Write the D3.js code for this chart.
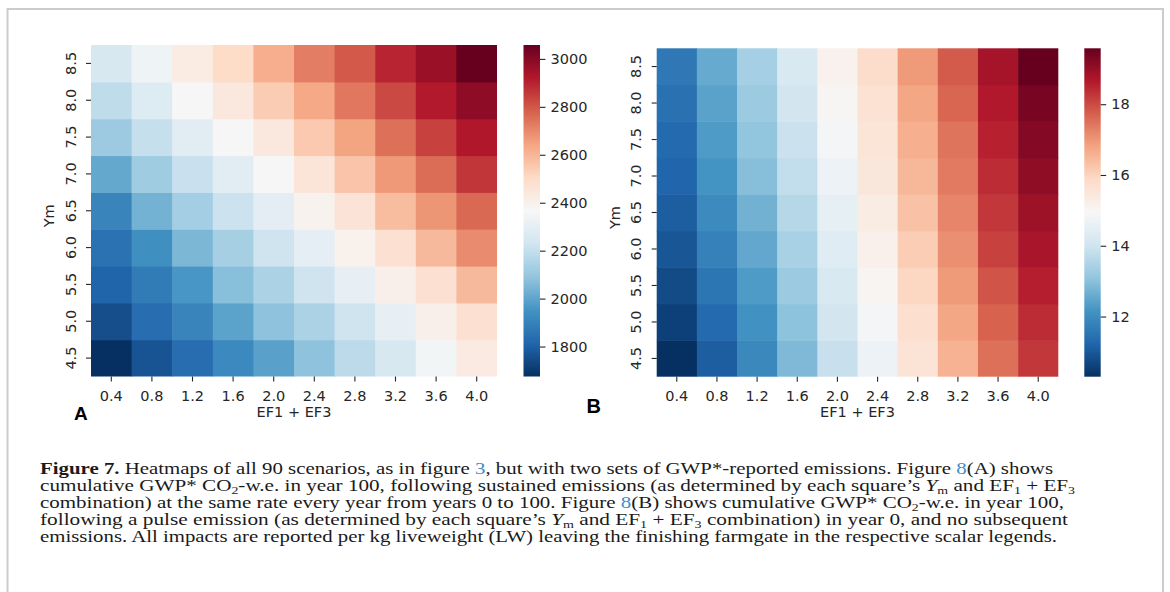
<!DOCTYPE html>
<html>
<head>
<meta charset="utf-8">
<script src="https://cdn.jsdelivr.net/npm/d3@7"></script>
<style>
  html, body { margin: 0; padding: 0; background: #fff; }
  svg { display: block; }
</style>
</head>
<body>
<svg id="fig" width="1170" height="592"></svg>
<script>
// ---------------- data ----------------
const efLabels = ["0.4", "0.8", "1.2", "1.6", "2.0", "2.4", "2.8", "3.2", "3.6", "4.0"];
const ymLabels = ["4.5", "5.0", "5.5", "6.0", "6.5", "7.0", "7.5", "8.0", "8.5"];

// Panel A: cumulative GWP* CO2-w.e. (sustained), rows = Ym 4.5 .. 8.5, cols = EF1+EF3
const valuesA = [
  [1675, 1767, 1836, 1920, 1990, 2085, 2182, 2252, 2350, 2430],
  [1753, 1836, 1905, 1995, 2085, 2148, 2224, 2307, 2404, 2473],
  [1808, 1878, 1961, 2072, 2148, 2224, 2307, 2404, 2473, 2591],
  [1850, 1940, 2051, 2134, 2224, 2300, 2397, 2473, 2591, 2695],
  [1905, 2037, 2127, 2217, 2293, 2390, 2460, 2584, 2674, 2764],
  [2009, 2120, 2210, 2286, 2369, 2453, 2563, 2667, 2757, 2861],
  [2113, 2203, 2286, 2362, 2439, 2550, 2646, 2750, 2840, 2923],
  [2189, 2272, 2362, 2439, 2543, 2633, 2736, 2826, 2917, 2986],
  [2252, 2335, 2425, 2501, 2619, 2723, 2792, 2896, 2965, 3058]
];
// Panel B: cumulative GWP* CO2-w.e. (pulse)
const valuesB = [
  [10.30, 11.09, 11.93, 12.86, 13.88, 14.67, 15.60, 16.58, 17.51, 18.25],
  [10.58, 11.32, 12.11, 13.04, 14.07, 14.86, 15.74, 16.76, 17.69, 18.39],
  [10.77, 11.56, 12.30, 13.23, 14.21, 15.04, 15.93, 16.95, 17.88, 18.58],
  [10.95, 11.79, 12.53, 13.42, 14.39, 15.18, 16.11, 17.09, 18.11, 18.76],
  [11.09, 11.97, 12.72, 13.60, 14.53, 15.32, 16.30, 17.23, 18.25, 18.90],
  [11.23, 12.16, 12.95, 13.79, 14.67, 15.46, 16.48, 17.37, 18.39, 19.09],
  [11.32, 12.30, 13.09, 13.93, 14.86, 15.55, 16.62, 17.46, 18.53, 19.23],
  [11.46, 12.44, 13.23, 14.07, 15.00, 15.65, 16.76, 17.65, 18.67, 19.37],
  [11.60, 12.58, 13.37, 14.21, 15.14, 15.79, 16.95, 17.79, 18.81, 19.58]
];
const cbTicksA = [1800, 2000, 2200, 2400, 2600, 2800, 3000];
const cbTicksB = [12, 14, 16, 18];

const xTitle = "EF1 + EF3";
const yTitle = "Ym";

// ---------------- colormap (matplotlib RdBu_r) ----------------
const rdbuR = ["#053061","#2166ac","#4393c3","#92c5de","#d1e5f0","#f7f7f7",
               "#fddbc7","#f4a582","#d6604d","#b2182b","#67001f"];
const cmap = d3.scaleLinear()
  .domain(d3.range(11).map(i => i / 10))
  .range(rdbuR)
  .interpolate(d3.interpolateRgb)
  .clamp(true);

const svg = d3.select("#fig");
const defs = svg.append("defs");
const TXT = "#262626";
const FONT = "'DejaVu Sans', sans-serif";

// frame
svg.append("path")
  .attr("d", "M7.5,640 L7.5,9 L1163,9 L1163,640")
  .attr("fill", "none").attr("stroke", "#cccccc").attr("stroke-width", 2);

function drawPanel(cfg) {
  const { values, x0, x1, y0, y1, cb0, cb1, ticks, id, letter } = cfg;
  const flat = values.flat();
  const vmin = d3.min(flat), vmax = d3.max(flat);
  const norm = d3.scaleLinear().domain([vmin, vmax]).range([0, 1]);
  const color = v => cmap(norm(v));

  const x = d3.scaleBand().domain(efLabels).range([x0, x1]).padding(0);
  const y = d3.scaleBand().domain(ymLabels.slice().reverse()).range([y0, y1]).padding(0);

  const cells = [];
  values.forEach((row, i) => row.forEach((v, j) => cells.push({ ym: ymLabels[i], ef: efLabels[j], v })));

  const g = svg.append("g");
  g.selectAll("rect.cell").data(cells).enter().append("rect")
    .attr("class", "cell")
    .attr("x", d => x(d.ef))
    .attr("y", d => y(d.ym))
    .attr("width", d => x.bandwidth() + (d.ef === efLabels[efLabels.length - 1] ? 0 : 0.6))
    .attr("height", d => y.bandwidth() + (d.ym === ymLabels[0] ? 0 : 0.6))
    .attr("fill", d => color(d.v));

  // x axis
  const xa = g.append("g").attr("transform", `translate(0,${y1})`)
    .call(d3.axisBottom(x).tickSize(5).tickPadding(9));
  xa.select(".domain").remove();
  xa.selectAll("line").attr("stroke", TXT).attr("stroke-width", 1.1);
  xa.selectAll("text").attr("fill", TXT).style("font-family", FONT).style("font-size", "14.5px");

  // y axis
  const ya = g.append("g").attr("transform", `translate(${x0},0)`)
    .call(d3.axisLeft(y).tickSize(5));
  ya.select(".domain").remove();
  ya.selectAll("line").attr("stroke", TXT).attr("stroke-width", 1.1);
  ya.selectAll("text")
    .attr("x", null).attr("dy", null)
    .attr("transform", "translate(-15.5,0) rotate(-90)")
    .attr("text-anchor", "middle")
    .attr("fill", TXT).style("font-family", FONT).style("font-size", "14.5px");

  // axis titles
  g.append("text")
    .attr("x", (x0 + x1) / 2).attr("y", 417)
    .attr("text-anchor", "middle").attr("fill", TXT)
    .style("font-family", FONT).style("font-size", "14.5px")
    .text(xTitle);
  g.append("text")
    .attr("transform", `translate(${x0 - 37},${(y0 + y1) / 2 + 5}) rotate(-90)`)
    .attr("text-anchor", "middle").attr("fill", TXT)
    .style("font-family", FONT).style("font-size", "14.5px")
    .text(yTitle);

  // colorbar
  const cbScale = d3.scaleLinear().domain([vmin, vmax]).range([y1, y0]);
  const grad = defs.append("linearGradient").attr("id", "grad" + id)
    .attr("x1", 0).attr("y1", 1).attr("x2", 0).attr("y2", 0);
  d3.range(0, 1.0001, 0.05).forEach(t => {
    grad.append("stop").attr("offset", t).attr("stop-color", cmap(t));
  });
  g.append("rect")
    .attr("x", cb0).attr("y", y0).attr("width", cb1 - cb0).attr("height", y1 - y0)
    .attr("fill", `url(#grad${id})`);
  const ca = g.append("g").attr("transform", `translate(${cb1},0)`)
    .call(d3.axisRight(cbScale).tickValues(ticks).tickSize(5.5).tickPadding(5).tickFormat(d3.format("d")));
  ca.select(".domain").remove();
  ca.selectAll("line").attr("stroke", TXT).attr("stroke-width", 1.1);
  ca.selectAll("text").attr("fill", TXT).style("font-family", FONT).style("font-size", "14.5px");

  // panel letter
  g.append("text")
    .attr("x", letter.x).attr("y", letter.y)
    .attr("fill", "#000")
    .style("font-family", "'Liberation Sans', Arial, sans-serif")
    .style("font-weight", "bold").style("font-size", letter.size + "px")
    .text(letter.t);
}

drawPanel({ values: valuesA, x0: 91, x1: 497, y0: 45, y1: 376.5, cb0: 523.5, cb1: 540,
            ticks: cbTicksA, id: "A", letter: { t: "A", x: 74, y: 419.5, size: 19 } });
drawPanel({ values: valuesB, x0: 656.7, x1: 1058.3, y0: 48.3, y1: 376.7, cb0: 1084.3, cb1: 1100.7,
            ticks: cbTicksB, id: "B", letter: { t: "B", x: 586.5, y: 413, size: 20 } });

// ---------------- caption ----------------
const captionLines = [
  [["Figure 7.", "b"], [" Heatmaps of all 90 scenarios, as in figure "], ["3", "blue"],
   [", but with two sets of GWP*-reported emissions. Figure "], ["8", "blue"], ["(A) shows"]],
  [["cumulative GWP* CO"], ["2", "sub"], ["-w.e. in year 100, following sustained emissions (as determined by each square\u2019s "],
   ["Y", "i"], ["m", "sub"], [" and EF"], ["1", "sub"], [" + EF"], ["3", "sub"]],
  [["combination) at the same rate every year from years 0 to 100. Figure "], ["8", "blue"],
   ["(B) shows cumulative GWP* CO"], ["2", "sub"], ["-w.e. in year 100,"]],
  [["following a pulse emission (as determined by each square\u2019s "], ["Y", "i"], ["m", "sub"],
   [" and EF"], ["1", "sub"], [" + EF"], ["3", "sub"], [" combination) in year 0, and no subsequent"]],
  [["emissions. All impacts are reported per kg liveweight (LW) leaving the finishing farmgate in the respective scalar legends."]]
];
const lineEnds = [1053, 1075, 1064, 1068, 1057];
const captionX = 40, captionY0 = 474, lineStep = 17;

captionLines.forEach((segs, li) => {
  const t = svg.append("text")
    .attr("x", captionX).attr("y", captionY0 + li * lineStep)
    .attr("textLength", lineEnds[li] - captionX)
    .attr("lengthAdjust", "spacingAndGlyphs")
    .attr("fill", "#1a1a1a")
    .style("font-family", "'Liberation Serif', 'Times New Roman', serif")
    .style("font-size", "16px");
  let shifted = false;
  segs.forEach(([txt, st]) => {
    const ts = t.append("tspan").text(txt);
    if (st === "sub") {
      ts.attr("dy", 3).style("font-size", "10.5px");
      shifted = true;
    } else if (shifted) {
      ts.attr("dy", -3);
      shifted = false;
    }
    if (st === "b") ts.style("font-weight", "bold");
    if (st === "i") ts.style("font-style", "italic");
    if (st === "blue") ts.attr("fill", "#3b8ec8");
  });
});
</script>
</body>
</html>
